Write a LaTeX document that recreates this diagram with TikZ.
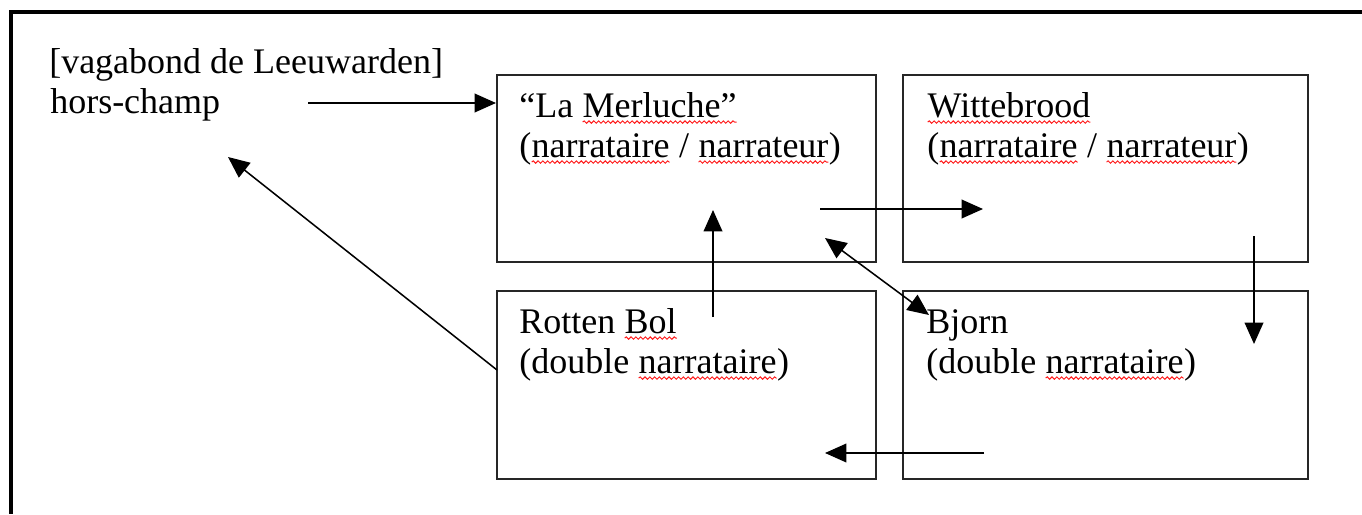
\documentclass[tikz,border=0pt]{standalone}
\usepackage{fontspec}
\setmainfont{Liberation Serif}
\usetikzlibrary{arrows.meta,decorations.pathmorphing}

% red wavy underline, as a spell checker marks a word
\newcommand\spellu[1]{\tikz[baseline=(sw.base)]{%
  \node[inner sep=0pt, outer sep=0pt] (sw) {#1};
  \draw[red!90!white, line width=0.7pt, decorate,
        decoration={snake, amplitude=0.9pt, segment length=3.6pt}]
    ([yshift=-3.8pt]sw.base west) -- ([yshift=-3.8pt]sw.base east);}}

\tikzset{
  box/.style={draw=black!85, line width=1.5pt, rectangle, inner sep=0pt},
  txt/.style={inner sep=0pt, anchor=base west, font=\fontsize{27}{31}\selectfont},
  arr/.style={line width=1.15pt, -{Triangle[length=16pt,width=14pt]}},
  darr/.style={line width=1.15pt, {Triangle[length=16pt,width=14pt]}-{Triangle[length=16pt,width=14pt]}},
  frame/.style={line width=2.4pt}
}

\begin{document}
\begin{tikzpicture}[x=0.75pt, y=-0.75pt]
  \useasboundingbox (0,0) rectangle (1362,514);

  % open frame: top and left edges only
  \coordinate (ftr) at (1362,12);
  \coordinate (ftl) at (11,12);
  \coordinate (fbl) at (11,514);
  \draw[frame] (ftr) -- (ftl) -- (fbl);

  % the four boxes
  \node[box, minimum width=284.25pt, minimum height=140.25pt] (merl) at (686.5,168.5) {};
  \node[box, minimum width=303.75pt, minimum height=140.25pt] (witt) at (1105.5,168.5) {};
  \node[box, minimum width=284.25pt, minimum height=141pt]    (rott) at (686.5,385) {};
  \node[box, minimum width=303.75pt, minimum height=141pt]    (bjor) at (1105.5,385) {};

  % texts
  \node[txt] (vag1) at (49,73) {[vagabond de Leeuwarden]};
  \node[txt] (vag2) at (50,113) {hors-champ};

  \node[txt] (m1) at (519,117) {“La \spellu{Merluche”}};
  \node[txt] (m2) at (519,157) {(\spellu{narrataire} / \spellu{narrateur})};

  \node[txt] (w1) at (927,117) {\spellu{Wittebrood}};
  \node[txt] (w2) at (927,157) {(\spellu{narrataire} / \spellu{narrateur})};

  \node[txt] (r1) at (519,333) {Rotten \spellu{Bol}};
  \node[txt] (r2) at (519,373) {(double \spellu{narrataire})};

  \node[txt] (b1) at (926,333) {Bjorn};
  \node[txt] (b2) at (926,373) {(double \spellu{narrataire})};

  % connector end points
  \coordinate (hc)  at (308,103);
  \coordinate (hcT) at (228,157);
  \coordinate (rw)  at (497,370);
  \coordinate (ru0) at (713,317);
  \coordinate (ru1) at (713,210);
  \coordinate (mw0) at (820,209);
  \coordinate (mw1) at (983,209);
  \coordinate (wb0) at (1254,236);
  \coordinate (wb1) at (1254,344);
  \coordinate (br0) at (984,453);
  \coordinate (br1) at (825,453);
  \coordinate (mb0) at (825,238);
  \coordinate (mb1) at (929,315);

  % connectors
  \draw[arr] (hc) -- (hc -| merl.west);
  \draw[arr] (rw) -- (hcT);
  \draw[arr] (ru0) -- (ru1);
  \draw[arr] (mw0) -- (mw1);
  \draw[arr] (wb0) -- (wb1);
  \draw[arr] (br0) -- (br1);
  \draw[darr] (mb0) -- (mb1);
\end{tikzpicture}
\end{document}
